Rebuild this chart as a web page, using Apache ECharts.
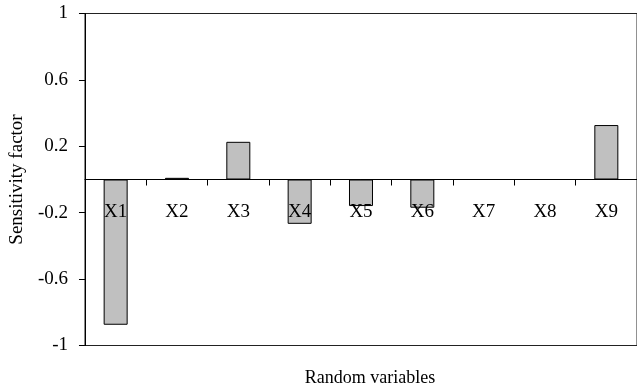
<!DOCTYPE html>
<html>
<head>
<meta charset="utf-8">
<style>
  html, body { margin: 0; padding: 0; background: #fff; }
  #chart { width: 637px; height: 387px; }
</style>
<script src="https://cdn.jsdelivr.net/npm/echarts@6/dist/echarts.min.js"></script>
</head>
<body>
<div id="chart"></div>
<script>
// Sensitivity factor of each random variable
const categories = ['X1', 'X2', 'X3', 'X4', 'X5', 'X6', 'X7', 'X8', 'X9'];
const sensitivity = [-0.875, 0.01, 0.227, -0.267, -0.16, -0.17, 0, 0, 0.328];
const yMin = -1, yMax = 1, yStep = 0.4;

const font = 'Liberation Serif, Times New Roman, serif';
const fontSize = 19;
const gridTop = 13.5, gridHeight = 332;
// lift the category axis from the bottom edge up to the value 0
const zeroOffset = -gridHeight * (0 - yMin) / (yMax - yMin);

const chart = echarts.init(document.getElementById('chart'));
chart.setOption({
  animation: false,
  title: {
    text: 'Random variables',
    left: 365,
    textAlign: 'center',
    top: 364,
    textStyle: { color: '#000', fontFamily: font, fontSize: 18, fontWeight: 'normal' }
  },
  grid: {
    left: 84, top: gridTop, width: 562.5, height: gridHeight,
    show: true, borderColor: '#222', borderWidth: 1, backgroundColor: 'transparent'
  },
  xAxis: {
    type: 'category',
    data: categories,
    z: 10,
    position: 'bottom',
    offset: zeroOffset,
    axisLine: { onZero: false, lineStyle: { color: '#000', width: 1 } },
    axisTick: { show: true, length: 6, alignWithLabel: false, lineStyle: { color: '#000' } },
    axisLabel: { color: '#000', fontFamily: font, fontSize: fontSize, margin: 23 },
    splitLine: { show: false }
  },
  yAxis: {
    type: 'value',
    min: yMin,
    max: yMax,
    interval: yStep,
    name: 'Sensitivity factor',
    nameLocation: 'middle',
    nameGap: 54,
    nameTextStyle: { color: '#000', fontFamily: font, fontSize: 19 },
    axisLine: { show: true, lineStyle: { color: '#000', width: 1 } },
    axisTick: { show: true, inside: false, length: 6, lineStyle: { color: '#000' } },
    axisLabel: { color: '#000', fontFamily: font, fontSize: fontSize, margin: 17 },
    splitLine: { show: false }
  },
  series: [{
    type: 'bar',
    data: sensitivity,
    barWidth: 24,
    itemStyle: { color: '#c0c0c0', borderColor: '#000', borderWidth: 1 }
  }]
});
</script>
</body>
</html>
